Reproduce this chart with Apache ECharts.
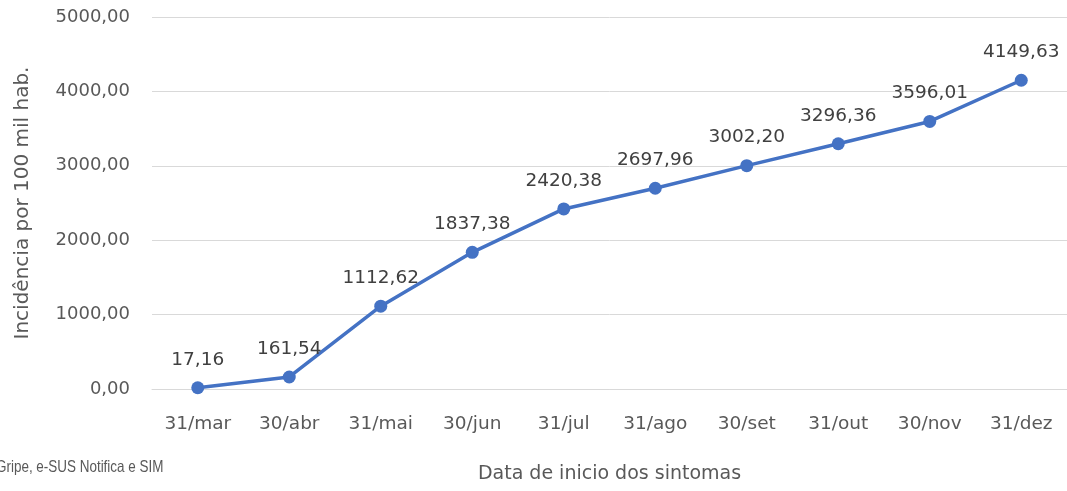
<!DOCTYPE html>
<html>
<head>
<meta charset="utf-8">
<script src="https://cdn.jsdelivr.net/npm/echarts@6/dist/echarts.min.js"></script>
<style>
html,body{margin:0;padding:0;background:#fff;}
#chart{width:1067px;height:491px;}
</style>
</head>
<body>
<div id="chart"></div>
<script>
const categories = ['31/mar','30/abr','31/mai','30/jun','31/jul','31/ago','30/set','31/out','30/nov','31/dez'];
const incidence = [17.16, 161.54, 1112.62, 1837.38, 2420.38, 2697.96, 3002.20, 3296.36, 3596.01, 4149.63];
const yAxisTitle = 'Incidência por 100 mil hab.';
const xAxisTitle = 'Data de inicio dos sintomas';
const sourceNote = 'Gripe, e-SUS Notifica e SIM';

const fmt = v => Number(v).toFixed(2).replace('.', ',');
const FONT = 'DejaVu Sans';

const chart = echarts.init(document.getElementById('chart'), null, {renderer: 'canvas'});
chart.setOption({
  animation: false,
  backgroundColor: '#ffffff',
  grid: {left: 152, right: -3, top: 17, bottom: 102, containLabel: false},
  xAxis: {
    type: 'category',
    data: categories,
    boundaryGap: true,
    axisLine: {show: true, lineStyle: {color: '#D9D9D9', width: 1}},
    axisTick: {show: false},
    axisLabel: {color: '#595959', fontFamily: FONT, fontSize: 18.5, margin: 26},
    name: xAxisTitle,
    nameLocation: 'middle',
    nameGap: 76,
    nameTextStyle: {color: '#595959', fontFamily: FONT, fontSize: 19}
  },
  yAxis: {
    type: 'value',
    min: 0,
    max: 5000,
    interval: 1000,
    axisLine: {show: false},
    axisTick: {show: false},
    splitLine: {show: true, lineStyle: {color: '#D9D9D9', width: 1}},
    axisLabel: {color: '#595959', fontFamily: FONT, fontSize: 18, margin: 22, formatter: v => fmt(v)},
    name: yAxisTitle,
    nameLocation: 'middle',
    nameGap: 119,
    nameRotate: 90,
    nameTextStyle: {color: '#595959', fontFamily: FONT, fontSize: 20}
  },
  series: [{
    type: 'line',
    data: incidence,
    symbol: 'circle',
    symbolSize: 13,
    lineStyle: {color: '#4472C4', width: 3.5},
    itemStyle: {color: '#4472C4'},
    label: {
      show: true,
      position: 'top',
      distance: 12,
      color: '#404040',
      fontFamily: FONT,
      fontSize: 18.5,
      formatter: p => fmt(p.value)
    }
  }],
  graphic: [{
    type: 'text',
    x: -4,
    y: 467,
    scaleX: 0.815,
    style: {
      text: sourceNote,
      fill: '#595959',
      font: '16.5px "Liberation Sans", sans-serif',
      verticalAlign: 'middle',
      align: 'left'
    }
  }]
});
</script>
</body>
</html>
